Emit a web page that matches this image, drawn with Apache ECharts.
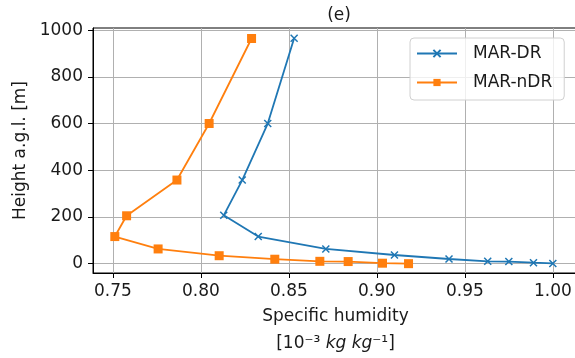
<!DOCTYPE html>
<html>
<head>
<meta charset="utf-8">
<script src="https://cdn.jsdelivr.net/npm/echarts@6/dist/echarts.min.js"></script>
<style>
  html, body { margin: 0; padding: 0; background: #fff; overflow: hidden; }
  #chart { width: 575px; height: 358px; }
</style>
</head>
<body>
<div id="chart"></div>
<script>
// Specific humidity profiles (10^-3 kg/kg) against height above ground (m)
const humidityDR = [0.853, 0.838, 0.8235, 0.813, 0.8326, 0.871, 0.910, 0.941, 0.963, 0.975, 0.989, 1.000];
const heightDR = [965, 600, 358, 207, 116, 63, 37, 20, 10, 9, 4, 1];
const humidityNDR = [0.8288, 0.8047, 0.7864, 0.7578, 0.7511, 0.7757, 0.8104, 0.842, 0.8676, 0.8837, 0.9032, 0.918];
const heightNDR = [964, 600, 358, 205, 116, 63, 34, 19, 10, 9, 2, 0];

const xTicks = [0.75, 0.80, 0.85, 0.90, 0.95, 1.00];
const yTicks = [0, 200, 400, 600, 800, 1000];

const FONT = 'DejaVu Sans';
const INK = '#1a1a1a';
const BLUE = '#1f77b4';
const ORANGE = '#ff7f0e';

const pairs = (xs, ys) => xs.map((x, i) => [x, ys[i]]);

const chart = echarts.init(document.getElementById('chart'), null, { renderer: 'canvas' });

chart.setOption({
  animation: false,
  backgroundColor: '#fff',
  title: {
    text: '(e)',
    left: 334,
    top: 2,
    textAlign: 'center',
    textStyle: { fontFamily: FONT, fontSize: 17, fontWeight: 'normal', color: INK }
  },
  // the plotting frame runs slightly past the right edge of the canvas
  grid: {
    left: 93, width: 485, top: 28, bottom: 85,
    outerBoundsMode: 'none',
    containLabel: false,
    show: true, borderColor: '#000', borderWidth: 1
  },
  legend: {
    orient: 'vertical',
    left: 410, top: 38,
    padding: [7, 12, 9, 6],
    itemGap: 12,
    itemWidth: 40, itemHeight: 9,
    backgroundColor: 'rgba(255,255,255,0.8)',
    borderColor: '#d0d0d0', borderWidth: 1, borderRadius: 4,
    textStyle: { fontFamily: FONT, fontSize: 17, color: INK, padding: [0, 0, 0, 11] },
    data: ['MAR-DR', 'MAR-nDR']
  },
  xAxis: {
    type: 'value',
    min: 0.7387, max: 1.0143,
    name: '{a|Specific humidity}\n{a|[10⁻³ }{i|kg kg}{a|⁻¹]}',
    nameLocation: 'middle',
    nameGap: 30,
    nameTextStyle: {
      fontFamily: FONT, color: INK,
      rich: {
        a: { fontFamily: FONT, fontSize: 17, color: INK, lineHeight: 27 },
        i: { fontFamily: FONT, fontSize: 17, color: INK, lineHeight: 27, fontStyle: 'italic' }
      }
    },
    axisLine: { show: true, onZero: false, lineStyle: { color: '#000', width: 1 } },
    axisTick: { show: true, inside: false, length: 5, customValues: xTicks, lineStyle: { color: '#000' } },
    axisLabel: {
      customValues: xTicks, margin: 10,
      fontFamily: FONT, fontSize: 17, color: INK,
      formatter: v => v.toFixed(2)
    },
    splitLine: { show: true, lineStyle: { color: '#b0b0b0', width: 1 } }
  },
  yAxis: {
    type: 'value',
    min: -40, max: 1009,
    name: 'Height a.g.l. [m]',
    nameLocation: 'middle',
    nameGap: 64,
    nameTextStyle: { fontFamily: FONT, fontSize: 17, color: INK },
    axisLine: { show: true, onZero: false, lineStyle: { color: '#000', width: 1 } },
    axisTick: { show: true, inside: false, length: 5, customValues: yTicks, lineStyle: { color: '#000' } },
    axisLabel: {
      customValues: yTicks, margin: 10,
      fontFamily: FONT, fontSize: 17, color: INK,
      formatter: v => String(Math.round(v))
    },
    splitLine: { show: true, lineStyle: { color: '#b0b0b0', width: 1 } }
  },
  series: [
    {
      name: 'MAR-DR',
      type: 'line',
      data: pairs(humidityDR, heightDR),
      symbol: 'path://M0,0L10,10M10,0L0,10',
      symbolSize: 7,
      showAllSymbol: true,
      lineStyle: { color: BLUE, width: 1.8 },
      itemStyle: { color: BLUE, borderColor: BLUE, borderWidth: 1.5 },
      z: 3
    },
    {
      name: 'MAR-nDR',
      type: 'line',
      data: pairs(humidityNDR, heightNDR),
      symbol: 'rect',
      symbolSize: 9,
      showAllSymbol: true,
      lineStyle: { color: ORANGE, width: 1.8 },
      itemStyle: { color: ORANGE, borderColor: ORANGE, borderWidth: 0 },
      z: 3
    }
  ]
});
</script>
</body>
</html>
